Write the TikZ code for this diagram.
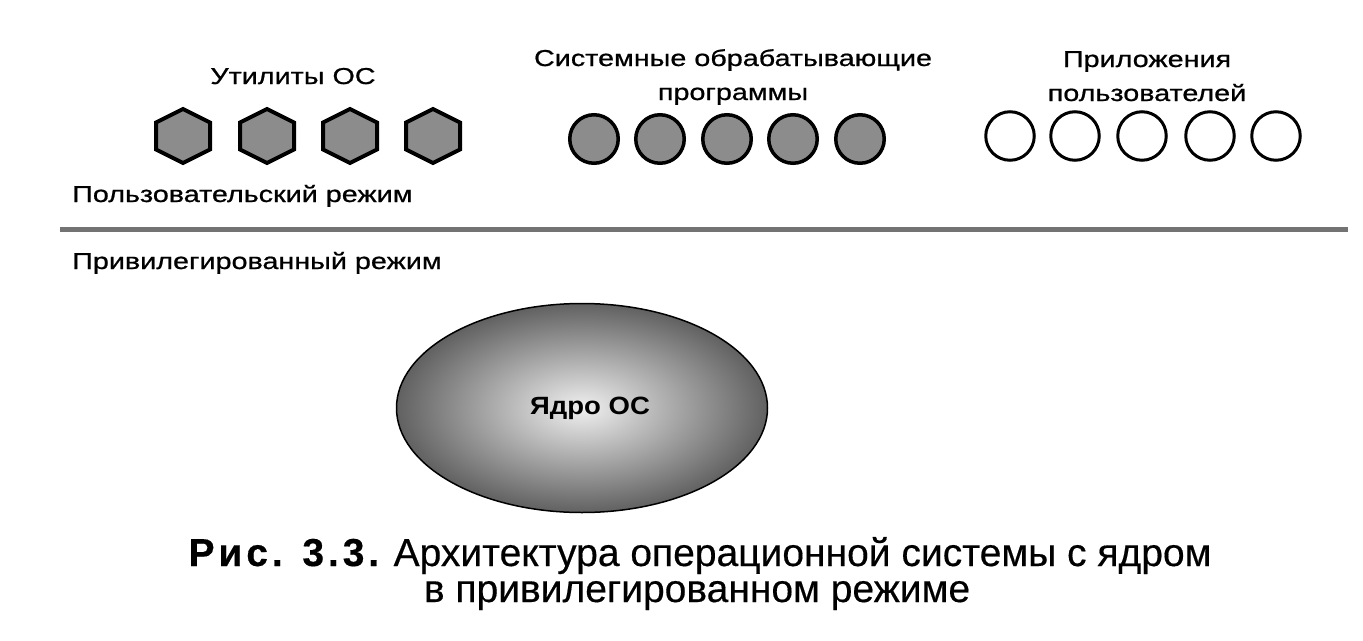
\documentclass[tikz,border=0pt]{standalone}
\usepackage{fontspec}
\setmainfont{Liberation Sans}
\newfontfamily\lblfont[FakeStretch=1.25,FakeBold=0.8]{Liberation Sans}
\newfontfamily\kernfont[FakeStretch=1.1]{Liberation Sans}
\newfontfamily\capfont[FakeBold=0.4]{Liberation Sans}
\usetikzlibrary{shapes.geometric}
\tikzset{
  lbl/.style={font=\lblfont\fontsize{23}{28}\selectfont, inner sep=0pt},
  hexfill/.style={draw=black, line width=4pt, fill=black!45, line join=miter},
  hexa/.pic={\draw[hexfill] (0,-27) -- (27,-13.5) -- (27,13.5) -- (0,27) -- (-27,13.5) -- (-27,-13.5) -- cycle;},
  sysproc/.style={circle, draw=black, line width=3.5pt, fill=black!45, minimum size=48.5pt, inner sep=0pt},
  userapp/.style={circle, draw=black, line width=3pt, fill=white, minimum size=48.5pt, inner sep=0pt},
  modeline/.style={draw=black!55, line width=5pt},
  kernel/.style={ellipse, draw=black, line width=1.5pt, inner color=black!6, outer color=black!62,
    minimum width=371pt, minimum height=209pt, inner sep=0pt,
    font=\kernfont\bfseries\fontsize{25}{30}\selectfont},
  captext/.style={font=\capfont\fontsize{39}{40}\selectfont, inner sep=0pt, anchor=base}
}
\begin{document}
\begin{tikzpicture}[x=1pt,y=-1pt]
\useasboundingbox (0,0) rectangle (1363,640);
% group labels
\node[lbl, anchor=base] (utl) at (293,84) {Утилиты ОС};
\node[lbl, anchor=base] (sys1) at (733,66) {Системные обрабатывающие};
\node[lbl, anchor=base] (sys2) at (733,100) {программы};
\node[lbl, anchor=base] (app1) at (1147,67) {Приложения};
\node[lbl, anchor=base] (app2) at (1147,101) {пользователей};
% utilities
\pic (h1) at (183,136) {hexa};
\pic (h2) at (267,136) {hexa};
\pic (h3) at (350,136) {hexa};
\pic (h4) at (433,136) {hexa};
% system processes
\node[sysproc] (s1) at (594,139) {};
\node[sysproc] (s2) at (660,139) {};
\node[sysproc] (s3) at (727,139) {};
\node[sysproc] (s4) at (793,139) {};
\node[sysproc] (s5) at (860,139) {};
% user applications
\node[userapp] (a1) at (1010,136) {};
\node[userapp] (a2) at (1075,136) {};
\node[userapp] (a3) at (1142,136) {};
\node[userapp] (a4) at (1210,136) {};
\node[userapp] (a5) at (1276,136) {};
% modes
\node[lbl, anchor=base west] (um) at (72,202) {Пользовательский режим};
\coordinate (ml) at (60,229.5);
\coordinate (mr) at (1348,229.5);
\draw[modeline] (ml) -- (mr);
\node[lbl, anchor=base west] (pm) at (72,269) {Привилегированный режим};
% kernel
\node[kernel] (core) at (582,408) {\hspace*{16pt}Ядро ОС};
% caption
\node[captext] (cap1) at (700,566) {{\bfseries\addfontfeatures{LetterSpace=10}Рис. 3.3.} Архитектура операционной системы с ядром};
\node[captext] (cap2) at (697,602) {в привилегированном режиме};
\end{tikzpicture}
\end{document}
